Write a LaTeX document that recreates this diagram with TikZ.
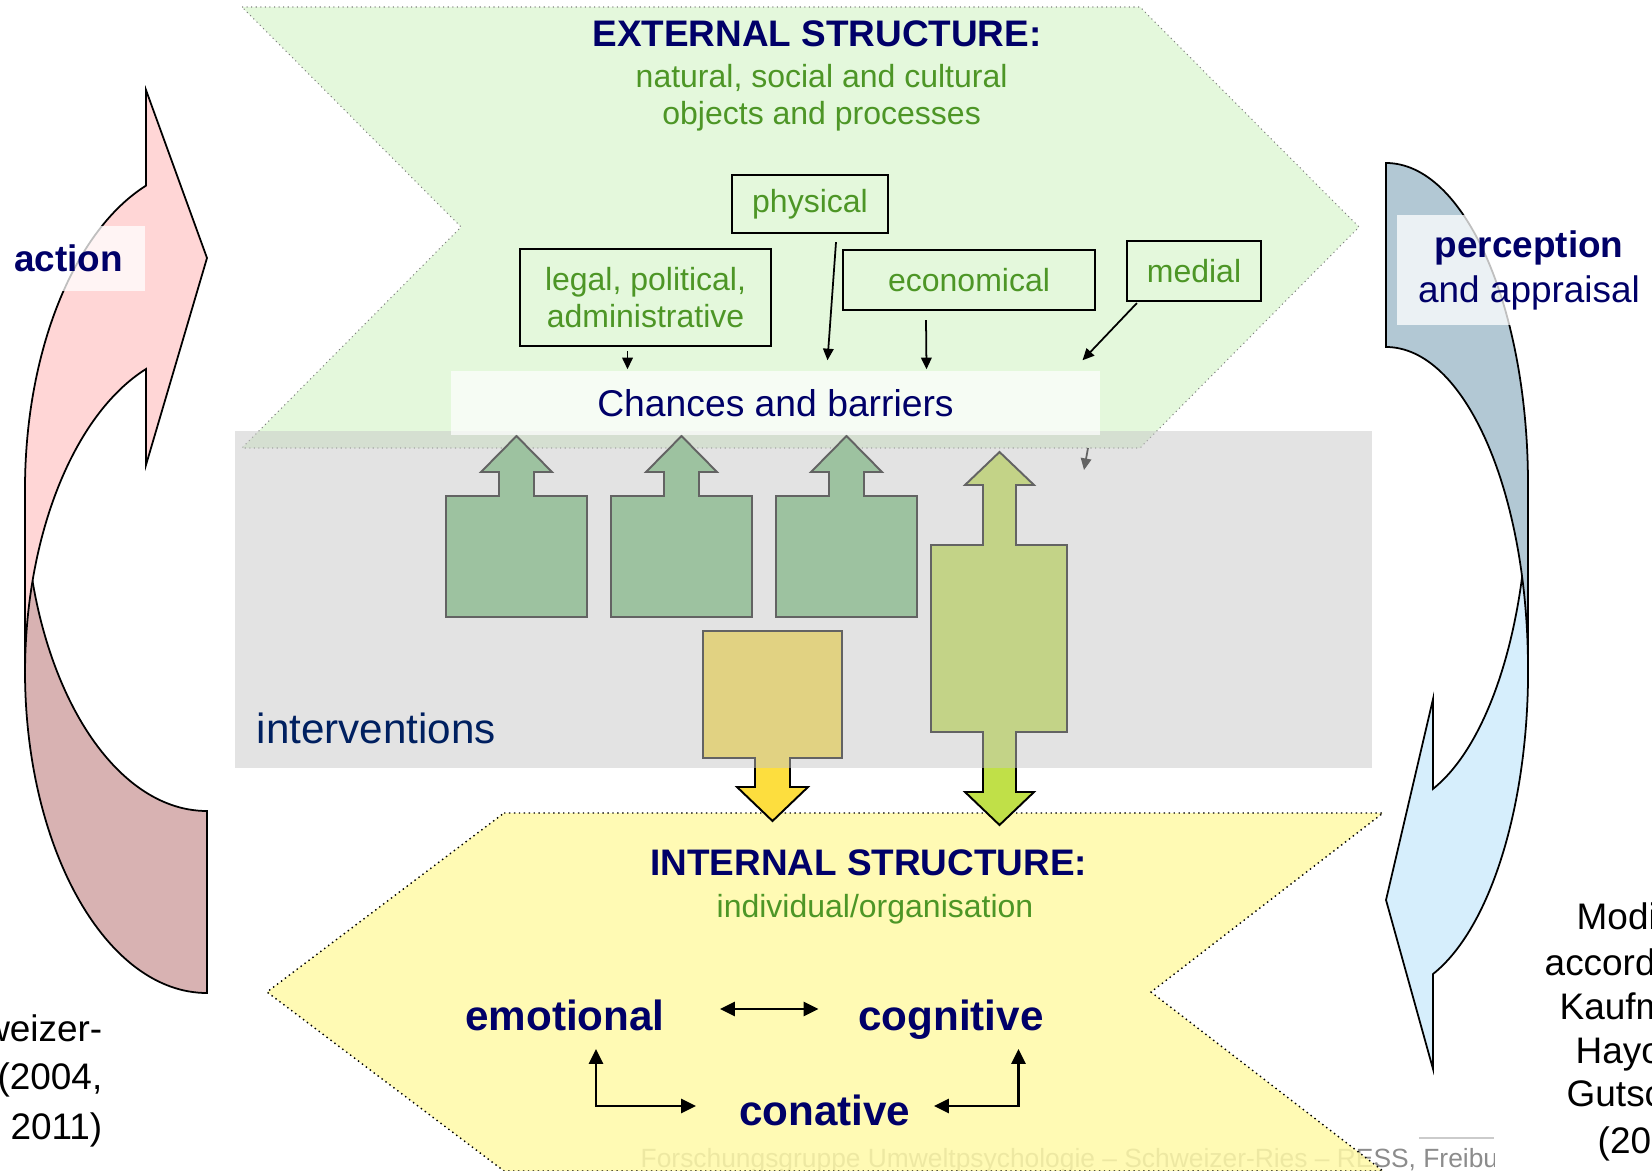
\documentclass[tikz,border=0pt]{standalone}
\usepackage{fontspec}
\setmainfont{Liberation Sans}
\usepackage{tikz}
\usetikzlibrary{arrows.meta,calc,positioning}
\definecolor{navy}{RGB}{0,0,104}
\definecolor{leaf}{RGB}{77,150,38}
\definecolor{ivblue}{RGB}{0,32,96}
\definecolor{paleleaf}{RGB}{228,248,220}
\definecolor{paleyellow}{RGB}{255,249,167}
\definecolor{bandgray}{RGB}{199,199,199}
\definecolor{blockgreen}{RGB}{115,189,121}
\definecolor{blockyellow}{RGB}{253,222,62}
\definecolor{blocklime}{RGB}{192,224,72}
\definecolor{rosefront}{RGB}{255,214,214}
\definecolor{roseback}{RGB}{216,178,178}
\definecolor{skyfront}{RGB}{214,238,252}
\definecolor{skyback}{RGB}{178,200,212}
\definecolor{footgray}{RGB}{140,140,140}

\begin{document}
\begin{tikzpicture}[x=0.01cm,y=-0.01cm,
	titletext/.style={font=\fontsize{10.5}{12.6}\selectfont\bfseries,text=navy,inner sep=0pt},
	subtext/.style={font=\fontsize{9.1}{10.6}\selectfont,text=leaf,align=center,inner sep=0pt},
	factorbox/.style={draw,line width=0.6pt,subtext},
	dimtext/.style={font=\fontsize{12}{14}\selectfont\bfseries,text=navy,inner sep=0pt},
	sidetext/.style={font=\fontsize{10.5}{12.6}\selectfont,inner sep=0pt},
	labelbox/.style={fill=white,fill opacity=0.75,text opacity=1,text=navy,font=\fontsize{10.5}{12.8}\selectfont,align=center,inner sep=0pt},
	blockarrow/.style={draw,line width=0.55pt},
	curvedarrow/.style={draw,line width=0.5pt},
	thinarrow/.style={line width=0.5pt,-{Triangle[length=3.3pt,width=3pt]}},
	thickarrow/.style={line width=0.6pt,{Triangle[length=4.2pt,width=4pt]}-{Triangle[length=4.2pt,width=4pt]}}]
\useasboundingbox (0,0) rectangle (1652,1170);
\clip (0,0) rectangle (1652,1170);

\draw[curvedarrow,fill=roseback] (207,811) arc[start angle=90,end angle=180,x radius=182,y radius=322]
	-- (25,671) arc[start angle=180,end angle=90,x radius=182,y radius=322] -- cycle;
\draw[curvedarrow,fill=rosefront] (25,489) arc[start angle=180,end angle=250.4,x radius=182,y radius=322]
	-- (146,90) -- (207,258) -- (146,465) -- (146,369)
	arc[start angle=250.4,end angle=180,x radius=182,y radius=322] -- cycle;
\draw[curvedarrow,fill=skyfront] (1528,485) arc[start angle=0,end angle=70.7,x radius=142,y radius=322]
	-- (1433,699) -- (1386,900) -- (1433,1069) -- (1433,974)
	arc[start angle=70.7,end angle=0,x radius=142,y radius=322] -- cycle;
\draw[curvedarrow,fill=skyback] (1386,163) arc[start angle=270,end angle=360,x radius=142,y radius=322]
	-- (1528,669) arc[start angle=0,end angle=-90,x radius=142,y radius=322] -- cycle;

\filldraw[fill=paleleaf,draw=gray,line width=0.3pt,densely dotted]
	(242,7) -- (1140,7) -- (1359,227) -- (1140,448) -- (242,448) -- (461,227) -- cycle;

\begin{scope}
\clip (0,0) rectangle (1494,1170);
\node (footer) at (640,1167) [anchor=base west,inner sep=0pt,text=footgray,font=\fontsize{7.5}{9}\selectfont]
	{Forschungsgruppe Umweltpsychologie -- Schweizer-Ries -- RESS, Freibu};
\end{scope}
\draw[footgray!45,line width=0.6pt] (1419,1138) -- (1494,1138);

\filldraw[fill=paleyellow,fill opacity=0.85,draw=black,line width=0.4pt,densely dotted]
	(504,813) -- (1383,813) -- (1151,992) -- (1383,1171) -- (504,1171) -- (267,992) -- cycle;

\foreach \dx in {0,165,330}
	\draw[blockarrow,fill=blockgreen,shift={(\dx,0)}] (446,617) -- (446,496) -- (499,496) -- (499,472) -- (481,472)
		-- (516.5,436) -- (552,472) -- (534,472) -- (534,496) -- (587,496) -- (587,617) -- cycle;
\draw[blockarrow,fill=blockyellow] (703,631) -- (842,631) -- (842,758) -- (790,758) -- (790,787) -- (808,787)
	-- (772.5,821) -- (737,787) -- (755,787) -- (755,758) -- (703,758) -- cycle;
\draw[blockarrow,fill=blocklime] (931,545) -- (983,545) -- (983,485) -- (965,485) -- (999.5,452) -- (1034,485)
	-- (1016,485) -- (1016,545) -- (1067,545) -- (1067,732) -- (1016,732) -- (1016,792) -- (1034,792)
	-- (999.5,825) -- (965,792) -- (983,792) -- (983,732) -- (931,732) -- cycle;
\coordinate (hiddentail) at (1088,448);
\coordinate (hiddentip) at (1084,470);
\draw[thinarrow] (hiddentail) -- (hiddentip);

\fill[bandgray,fill opacity=0.5] (235,431) rectangle (1372,768);
\node (interventions) at (256,743) [anchor=base west,inner sep=0pt,text=ivblue,font=\fontsize{12}{14}\selectfont] {interventions};

\node (chances) at (775.5,403) [fill=white,fill opacity=0.7,text opacity=1,text=navy,inner sep=0pt,
	font=\fontsize{10.6}{12}\selectfont,minimum width=6.49cm,minimum height=0.64cm] {Chances and barriers};

\node (external) at (817,47) [titletext,anchor=base] {EXTERNAL STRUCTURE:};
\node (externalsub) at (821.6,125) [subtext,anchor=base] {natural, social and cultural\\objects and processes};

\node (physical) at (810,204) [factorbox,minimum width=1.56cm,minimum height=0.58cm] {physical};
\node (legal) at (645.5,297.5) [factorbox,minimum width=2.51cm,minimum height=0.97cm] {legal, political,\\administrative};
\node (economical) at (969,280) [factorbox,minimum width=2.52cm,minimum height=0.6cm] {economical};
\node (medial) at (1194,271) [factorbox,minimum width=1.34cm,minimum height=0.6cm] {medial};

\draw[thinarrow] ($(legal.south)+(-18,4)$) -- ($(chances.north)+(-148,-1)$);
\draw[thinarrow] ($(physical.south)+(26,8)$) -- ($(chances.north)+(52,-10)$);
\draw[thinarrow] ($(economical.south)+(-43,9)$) -- ($(chances.north)+(151,-1)$);
\draw[thinarrow] ($(medial.south west)+(11,1)$) -- ($(chances.north)+(307,-10)$);

\node (internal) at (868.7,875) [titletext,anchor=base] {INTERNAL STRUCTURE:};
\node (internalsub) at (875,917) [subtext,anchor=base] {individual/organisation};
\node (emotional) at (565,1030) [dimtext,anchor=base] {emotional};
\node (cognitive) at (951,1030) [dimtext,anchor=base] {cognitive};
\node (conative) at (824.7,1125) [dimtext,anchor=base] {conative};
\draw[thickarrow] ($(emotional.base)+(155,-21)$) -- ($(cognitive.base)+(-132.5,-21)$);
\draw[thickarrow] ($(emotional.base)+(31,19)$) |- ($(conative.base)+(-128.7,-19)$);
\draw[thickarrow] ($(cognitive.base)+(67.5,19)$) |- ($(conative.base)+(109.3,-19)$);

\node (action) at (68.5,258.5) [labelbox,font=\fontsize{10.5}{12.8}\selectfont\bfseries,minimum width=1.53cm,minimum height=0.65cm] {action};
\node (perception) at (1529,270) [labelbox,minimum width=2.64cm,minimum height=1.1cm] {\textbf{perception}\\and appraisal};

\foreach \y/\t [count=\i] in {1041/weizer-,1089/{(2004,},1139/2011)}
	\node (leftcredit\i) at (103,\y) [sidetext,anchor=base east] {\t};
\foreach \x/\y/\t [count=\i] in {1576/929/Modi,1544/975/accord,1559/1019/Kaufm,1575/1063/Hayo,1566/1106/Gutsc,1597/1153/{(20}}
	\node (rightcredit\i) at (\x,\y) [sidetext,anchor=base west] {\t};
\end{tikzpicture}
\end{document}
